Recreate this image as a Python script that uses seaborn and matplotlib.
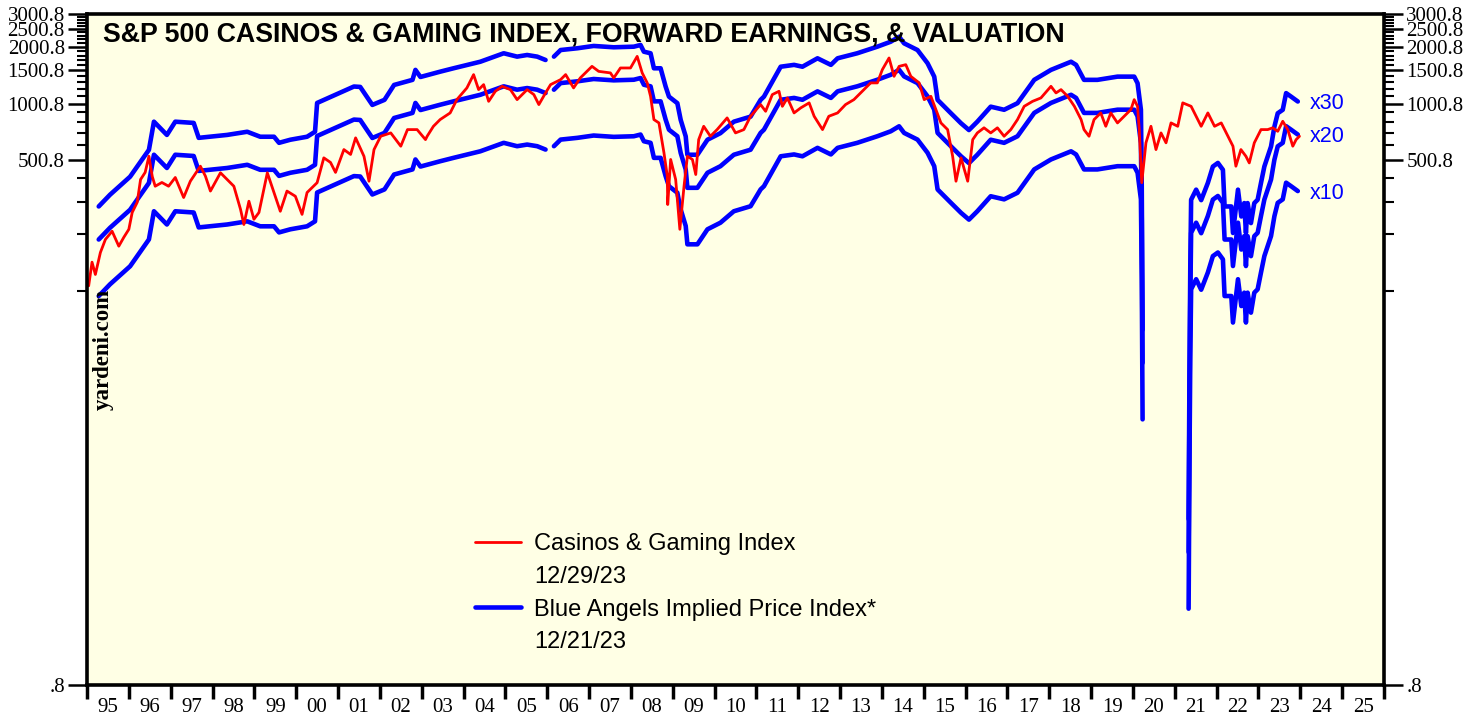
import numpy as np
import pandas as pd
import matplotlib
matplotlib.use("Agg")
import matplotlib.pyplot as plt
import seaborn as sns
from matplotlib.ticker import FixedLocator, FuncFormatter, NullFormatter, FixedFormatter
from matplotlib.lines import Line2D

# Casinos & Gaming Index (anno frazionario)
red_t = [1995.04, 1995.12, 1995.20, 1995.32, 1995.44, 1995.60, 1995.76, 1995.88, 1996.00, 1996.08,
         1996.20, 1996.28, 1996.39, 1996.48, 1996.56, 1996.63, 1996.79, 1996.95, 1997.11, 1997.31,
         1997.47, 1997.71, 1997.83, 1997.95, 1998.19, 1998.51, 1998.67, 1998.75, 1998.87, 1998.99,
         1999.11, 1999.31, 1999.47, 1999.62, 1999.78, 1999.98, 2000.14, 2000.26, 2000.50, 2000.66,
         2000.82, 2000.94, 2001.14, 2001.30, 2001.42, 2001.62, 2001.74, 2001.86, 2002.02, 2002.26,
         2002.50, 2002.66, 2002.89, 2003.09, 2003.13, 2003.28, 2003.44, 2003.68, 2003.84, 2004.08,
         2004.24, 2004.36, 2004.48, 2004.60, 2004.76, 2004.92, 2005.12, 2005.28, 2005.52, 2005.68,
         2005.80, 2005.96, 2006.08, 2006.32, 2006.44, 2006.63, 2006.79, 2006.95, 2007.07, 2007.23,
         2007.51, 2007.59, 2007.75, 2007.99, 2008.15, 2008.27, 2008.39, 2008.47, 2008.55, 2008.67,
         2008.79, 2008.87, 2008.88, 2008.95, 2009.07, 2009.17, 2009.27, 2009.35, 2009.47, 2009.55,
         2009.62, 2009.74, 2009.90, 2010.06, 2010.30, 2010.50, 2010.70, 2010.86, 2011.10, 2011.22,
         2011.38, 2011.54, 2011.62, 2011.74, 2011.90, 2012.06, 2012.26, 2012.38, 2012.58, 2012.73,
         2012.94, 2013.13, 2013.33, 2013.49, 2013.73, 2013.89, 2014.01, 2014.17, 2014.29, 2014.41,
         2014.57, 2014.69, 2014.89, 2015.01, 2015.17, 2015.29, 2015.41, 2015.57, 2015.69, 2015.77,
         2015.89, 2016.05, 2016.17, 2016.28, 2016.44, 2016.60, 2016.76, 2016.92, 2017.08, 2017.24,
         2017.40, 2017.60, 2017.80, 2018.04, 2018.16, 2018.28, 2018.44, 2018.60, 2018.76, 2018.83,
         2018.95, 2019.07, 2019.23, 2019.35, 2019.47, 2019.63, 2019.79, 2019.95, 2020.03, 2020.11,
         2020.15, 2020.21, 2020.31, 2020.43, 2020.55, 2020.67, 2020.79, 2020.91, 2021.07, 2021.19,
         2021.39, 2021.51, 2021.63, 2021.79, 2021.95, 2022.11, 2022.27, 2022.39, 2022.46, 2022.58,
         2022.70, 2022.78, 2022.90, 2023.06, 2023.22, 2023.34, 2023.46, 2023.58, 2023.70, 2023.82,
         2023.90, 2023.98]
red_v = [107, 143, 123, 161, 189, 209, 174, 194, 214, 263,
         298, 394, 430, 524, 409, 363, 380, 363, 404, 316,
         386, 464, 411, 342, 428, 363, 273, 227, 302, 242,
         263, 428, 335, 267, 342, 321, 257, 336, 379, 514,
         486, 430, 569, 536, 657, 524, 386, 569, 670, 698,
         593, 727, 727, 643, 670, 757, 822, 892, 1050, 1212,
         1427, 1187, 1262, 1028, 1163, 1236, 1187, 1050, 1187, 1117,
         988, 1140, 1262, 1342, 1427, 1212, 1370, 1485, 1579, 1485,
         1457, 1370, 1548, 1548, 1785, 1457, 1289, 1093, 822, 789,
         547, 411, 290, 504, 394, 214, 363, 524, 504, 419,
         643, 757, 670, 727, 839, 698, 727, 856, 988, 910,
         1117, 1163, 967, 1072, 892, 949, 1009, 856, 727, 856,
         892, 988, 1050, 1140, 1289, 1289, 1517, 1750, 1397, 1579,
         1612, 1397, 1289, 1050, 1093, 929, 789, 727, 524, 386,
         514, 386, 643, 698, 743, 698, 743, 670, 727, 822,
         967, 1028, 1072, 1236, 1140, 1187, 1093, 967, 822, 727,
         670, 822, 892, 757, 892, 789, 856, 929, 1050, 967,
         727, 379, 618, 757, 569, 698, 618, 789, 757, 1009,
         967, 856, 757, 892, 757, 789, 670, 593, 464, 569,
         524, 483, 618, 727, 727, 743, 712, 805, 727, 593,
         643, 670]

# Utili attesi (forward earnings); NaN = dato mancante / negativo
eps_t = [1995.28, 1995.55, 1996.03, 1996.48, 1996.60, 1996.91, 1997.11, 1997.55, 1997.67, 1998.35,
         1998.83, 1999.14, 1999.47, 1999.59, 1999.86, 2000.26, 2000.45, 2000.50, 2001.38, 2001.53,
         2001.82, 2002.11, 2002.34, 2002.78, 2002.85, 2002.97, 2003.44, 2003.76, 2004.40, 2004.96,
         2005.28, 2005.52, 2005.76, 2005.96, 2006.06, 2006.16, 2006.32, 2006.72, 2007.11, 2007.59,
         2008.07, 2008.23, 2008.31, 2008.47, 2008.55, 2008.71, 2008.83, 2008.91, 2009.11, 2009.19,
         2009.31, 2009.35, 2009.59, 2009.83, 2010.14, 2010.46, 2010.86, 2011.10, 2011.18, 2011.58,
         2011.90, 2012.10, 2012.46, 2012.78, 2012.94, 2013.41, 2013.89, 2014.21, 2014.41, 2014.53,
         2014.85, 2015.09, 2015.25, 2015.33, 2015.65, 2015.89, 2016.08, 2016.28, 2016.60, 2016.92,
         2017.24, 2017.64, 2018.04, 2018.52, 2018.64, 2018.83, 2019.15, 2019.63, 2020.03, 2020.11,
         2020.19, 2020.21, 2020.23, 2020.60, 2021.33, 2021.35, 2021.37, 2021.39, 2021.51, 2021.63,
         2021.79, 2021.91, 2022.03, 2022.15, 2022.19, 2022.35, 2022.39, 2022.51, 2022.59, 2022.66,
         2022.70, 2022.74, 2022.82, 2022.90, 2022.98, 2023.06, 2023.14, 2023.30, 2023.38, 2023.46,
         2023.58, 2023.66, 2023.78, 2023.94]
eps_v = [9.44, 10.9, 13.6, 18.9, 26.7, 22.7, 26.7, 26.3, 21.9, 22.7,
         23.6, 22.2, 22.2, 20.6, 21.4, 22.2, 23.6, 33.6, 41.1, 40.9,
         32.8, 34.9, 41.9, 44.6, 50.4, 46.2, 49.3, 51.4, 55.7, 61.8,
         59.3, 60.5, 59.3, 56.9, np.nan, 59.3, 64.3, 65.7, 67.6, 66.5,
         67.0, 68.4, 63.0, 61.8, 51.4, 51.4, 41.1, 36.3, 33.5, 27.3,
         22.3, 17.8, 17.8, 21.4, 23.2, 26.7, 28.4, 34.9, 36.3, 52.4,
         53.6, 52.4, 58.1, 53.6, 58.1, 61.8, 67.0, 71.2, 75.7, 69.8,
         64.3, 54.7, 46.4, 34.9, 29.6, 26.2, 24.1, 26.7, 32.1, 30.9,
         33.5, 44.6, 50.4, 55.7, 53.6, 44.6, 44.6, 46.4, 46.4, 42.8,
         30.9, 12.0, 2.08, np.nan, 0.204, 1.2, 4.5, 10.25, 11.6, 10.2,
         12.6, 15.4, 16.1, 14.8, 9.44, 9.44, 6.82, 11.6, 8.35, 9.84,
         6.82, 9.84, 7.70, 9.84, 10.25, 12.6, 15.4, 19.7, 25.1, 29.6,
         30.9, 37.9, 36.3, 34.2]

multipli = [10, 20, 30]
etichette_multipli = ["x30", "x20", "x10"]
anni = [f"{a % 100:02d}" for a in range(1995, 2026)]

sns.set_style("white")
plt.rcParams["font.family"] = ["Liberation Sans", "DejaVu Sans"]
plt.rcParams["text.color"] = "black"
plt.rcParams["xtick.color"] = "black"
plt.rcParams["ytick.color"] = "black"
plt.rcParams["xtick.labelcolor"] = "black"
plt.rcParams["ytick.labelcolor"] = "black"

fig = plt.figure(figsize=(14.81, 7.17), dpi=100)
ax = fig.add_axes([87 / 1481, 1 - 685 / 717, 1297 / 1481, 671 / 717])
ax.set_facecolor("#FFFFE5")
ax.set_yscale("log")

# Linee blu: un segmento per ogni tratto senza buchi
df_eps = pd.DataFrame({"anno": eps_t, "eps": eps_v})
df_eps["segmento"] = df_eps["eps"].isna().cumsum()
df_eps = df_eps.dropna()
for m in multipli:
    df_eps["valore"] = df_eps["eps"] * m
    sns.lineplot(data=df_eps, x="anno", y="valore", units="segmento", estimator=None,
                 color="#0000FF", linewidth=3.3, ax=ax)

# Linea rossa
df_red = pd.DataFrame({"anno": red_t, "valore": red_v})
sns.lineplot(data=df_red, x="anno", y="valore", estimator=None, color="#FF0000",
             linewidth=2.0, ax=ax)

# Assi
ax.set_xlim(1995, 2026)
ax.set_ylim(0.8, 3000.8)
ax.set_xlabel("")
ax.set_ylabel("")

ax.xaxis.set_major_locator(FixedLocator(np.arange(1995, 2027)))
ax.xaxis.set_major_formatter(NullFormatter())
ax.xaxis.set_minor_locator(FixedLocator(np.arange(1995.5, 2026)))
ax.xaxis.set_minor_formatter(FixedFormatter(anni))
ax.tick_params(axis="x", which="major", direction="out", length=10, width=2.5, bottom=True,
               color="black")
ax.tick_params(axis="x", which="minor", length=0, pad=9, labelsize=15, labelcolor="black")

ax.yaxis.set_major_locator(FixedLocator([0.8, 500.8, 1000.8, 1500.8, 2000.8, 2500.8, 3000.8]))
ax.yaxis.set_minor_locator(FixedLocator([k * 100 + 0.8 for k in range(1, 30) if k % 5]))
ax.yaxis.set_major_formatter(FuncFormatter(lambda v, p: f"{v:.1f}".lstrip("0")))
ax.yaxis.set_minor_formatter(NullFormatter())
ax.tick_params(axis="y", which="both", direction="out", left=True, right=True,
               labelleft=True, labelright=True, labelsize=15, pad=2, color="black",
               labelcolor="black")
ax.tick_params(axis="y", which="major", length=14, width=1.8)
ax.tick_params(axis="y", which="minor", length=7, width=1.5)

for lbl in ax.get_xticklabels(minor=True) + ax.get_yticklabels():
    lbl.set_fontfamily("Liberation Serif")

for s in ax.spines.values():
    s.set_linewidth(2.6)
    s.set_color("black")

# Titolo dentro il grafico
ax.text(0.0123, 0.969, "S&P 500 CASINOS & GAMING INDEX, FORWARD EARNINGS, & VALUATION",
        transform=ax.transAxes, fontsize=19.3, fontweight="bold", va="center", ha="left",
        color="black")

# Firma verticale
ax.text(0.0123, 0.5, "yardeni.com", transform=ax.transAxes, rotation=90,
        fontsize=16.5, fontweight="bold", family="Liberation Serif", va="center", ha="center",
        color="black")

# Etichette multipli
for lab, yf in zip(etichette_multipli, [0.867, 0.818, 0.733]):
    ax.text(0.943, yf, lab, transform=ax.transAxes, color="#0000FF", fontsize=15.5,
            va="center", ha="left")

# Legenda
handles = [Line2D([], [], color="#FF0000", linewidth=2.0),
           Line2D([], [], color="none"),
           Line2D([], [], color="#0000FF", linewidth=3.3),
           Line2D([], [], color="none")]
labels = ["Casinos & Gaming Index", "12/29/23", "Blue Angels Implied Price Index*", "12/21/23"]
leg = ax.legend(handles, labels, loc="upper left", bbox_to_anchor=(0.299, 0.226), frameon=False,
                fontsize=17, handlelength=1.95, handletextpad=0.55, labelspacing=0.45,
                borderpad=0, borderaxespad=0)
for t in leg.get_texts():
    t.set_color("black")

plt.savefig("out.png", dpi=100)
